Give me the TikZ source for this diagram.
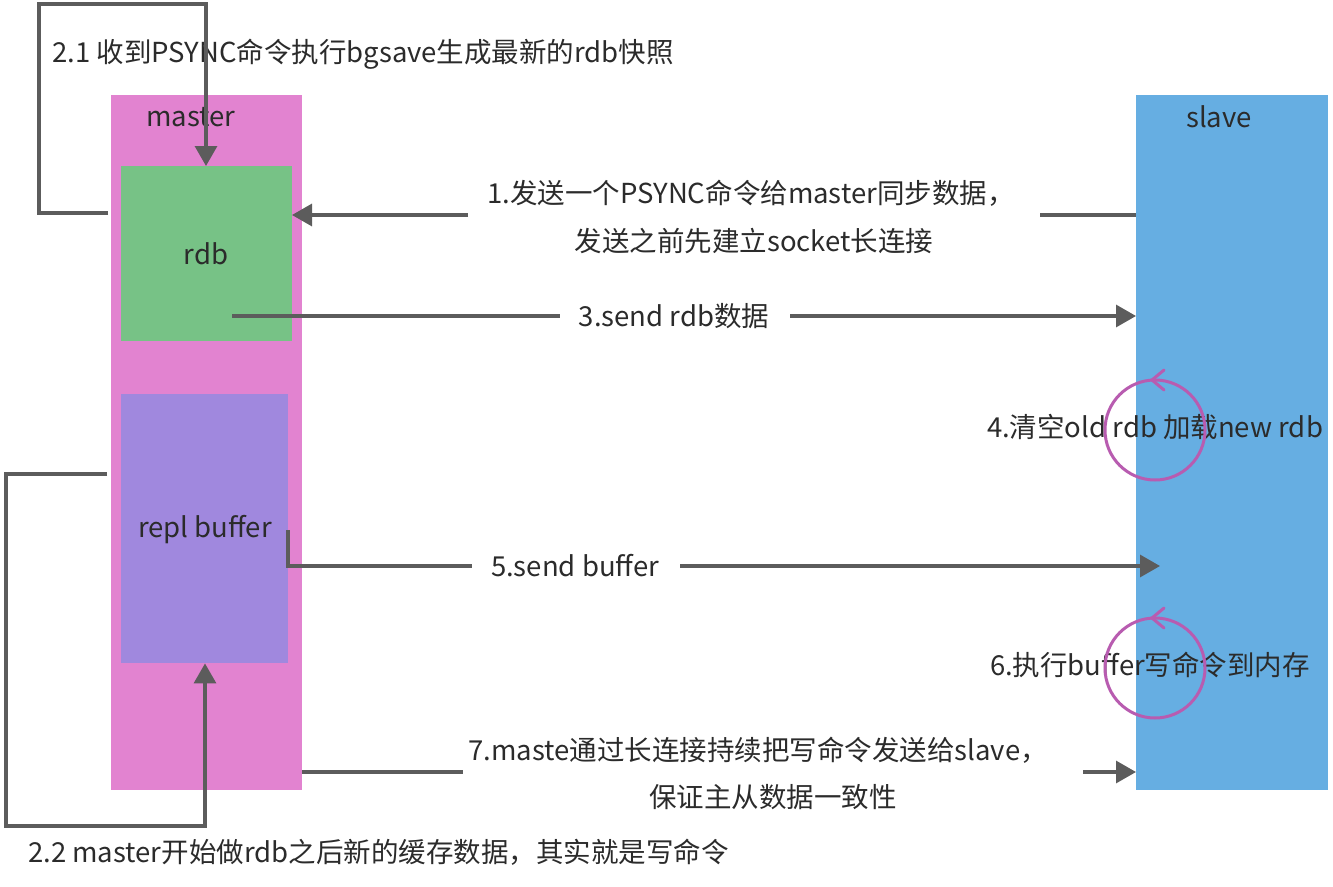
\documentclass[tikz,border=0pt]{standalone}
\usepackage{fontspec}
\setmainfont{Noto Sans CJK SC}
\usetikzlibrary{arrows.meta,calc}
\definecolor{mpink}{HTML}{E283D0}
\definecolor{sblue}{HTML}{66AEE2}
\definecolor{rgreen}{HTML}{77C286}
\definecolor{bpurple}{HTML}{A088DE}
\definecolor{lgray}{HTML}{5C5C5C}
\definecolor{cmag}{HTML}{B85CB0}
\definecolor{txt}{HTML}{2B2B2B}
\begin{document}
\begin{tikzpicture}[x=1pt,y=-1pt,
 box/.style={draw=none,inner sep=0,anchor=north west},
 lbl/.style={text=txt,font=\fontsize{27.5}{33}\selectfont,inner sep=0},
 conn/.style={draw=lgray,line width=3.2pt},
 arr/.style={conn,-{Triangle[length=20pt,width=22pt]}},
 loopc/.style={draw=cmag,line width=3pt}]
\useasboundingbox (0,0) rectangle (1333,886);
% main boxes
\node[box,fill=mpink,minimum width=191pt,minimum height=695pt] (master) at (111,95) {};
\node[box,fill=sblue,minimum width=192pt,minimum height=695pt] (slave) at (1136,95) {};
\node[box,fill=rgreen,minimum width=171pt,minimum height=175pt] (rdb) at (121,166) {};
\node[box,fill=bpurple,minimum width=167pt,minimum height=269pt] (buf) at (121,394) {};
% labels in boxes
\node[lbl] (lmaster) at (191,117) {master};
\node[lbl] (lslave) at (1219,117) {slave};
\node[lbl] (lrdb) at (206,254) {rdb};
\node[lbl] (lbuf) at (205,530) {repl buffer};
% step labels
\node[lbl,anchor=west] (t21) at (52,54) {2.1 收到PSYNC命令执行bgsave生成最新的rdb快照};
\node[lbl] (t1a) at (751,193) {1.发送一个PSYNC命令给master同步数据，};
\node[lbl] (t1b) at (754,241) {发送之前先建立socket长连接};
\node[lbl] (t3) at (674,316) {3.send rdb数据};
\node[lbl] (t4) at (1155,427) {4.清空old rdb 加载new rdb};
\node[lbl] (t5) at (575,566) {5.send buffer};
\node[lbl] (t6) at (1150,665) {6.执行buffer写命令到内存};
\node[lbl] (t7a) at (758,750) {7.maste通过长连接持续把写命令发送给slave，};
\node[lbl] (t7b) at (773,797) {保证主从数据一致性};
\node[lbl,anchor=west] (t22) at (28,852) {2.2 master开始做rdb之后新的缓存数据，其实就是写命令};
% coordinates
\coordinate (a1s) at (1136,215);
\coordinate (a1m) at (1040,215);
\coordinate (a1n) at (468,215);
\coordinate (a1e) at (292,215);
\coordinate (l21a) at (108,213);
\coordinate (l21b) at (39,213);
\coordinate (l21c) at (39,4);
\coordinate (l21d) at (206,4);
\coordinate (a3s) at (232,316);
\coordinate (a3m) at (560,316);
\coordinate (a3n) at (790,316);
\coordinate (a3e) at (1136,316);
\coordinate (a5s) at (288,530);
\coordinate (a5b) at (288,566);
\coordinate (a5m) at (472,566);
\coordinate (a5n) at (680,566);
\coordinate (a5e) at (1160,566);
\coordinate (a7s) at (302,772);
\coordinate (a7m) at (463,772);
\coordinate (a7n) at (1083,772);
\coordinate (a7e) at (1136,772);
\coordinate (l22a) at (107,474);
\coordinate (l22b) at (6,474);
\coordinate (l22c) at (6,826);
\coordinate (l22d) at (205,826);
% connectors
\draw[conn] (a1s) -- (a1m);
\draw[arr] (a1n) -- (a1e);
\draw[arr] (l21a) -- (l21b) -- (l21c) -- (l21d) -- (rdb.north -| l21d);
\draw[conn] (a3s) -- (a3m);
\draw[arr] (a3n) -- (a3e);
\draw[conn] (a5s) -- (a5b) -- (a5m);
\draw[arr] (a5n) -- (a5e);
\draw[conn] (a7s) -- (a7m);
\draw[arr] (a7n) -- (a7e);
\draw[arr] (l22a) -- (l22b) -- (l22c) -- (l22d) -- (buf.south -| l22d);
% self loops on slave
\coordinate (c4) at (1155,430);
\coordinate (c6) at (1155,668);
\draw[loopc] (c4) circle[radius=50pt];
\draw[loopc] (c6) circle[radius=50pt];
\draw[loopc,line cap=round,line join=round] ($(c4)+(9,-60)$) -- ($(c4)+(-3,-50)$) -- ($(c4)+(9,-40)$);
\draw[loopc,line cap=round,line join=round] ($(c6)+(9,-60)$) -- ($(c6)+(-3,-50)$) -- ($(c6)+(9,-40)$);
\end{tikzpicture}
\end{document}
